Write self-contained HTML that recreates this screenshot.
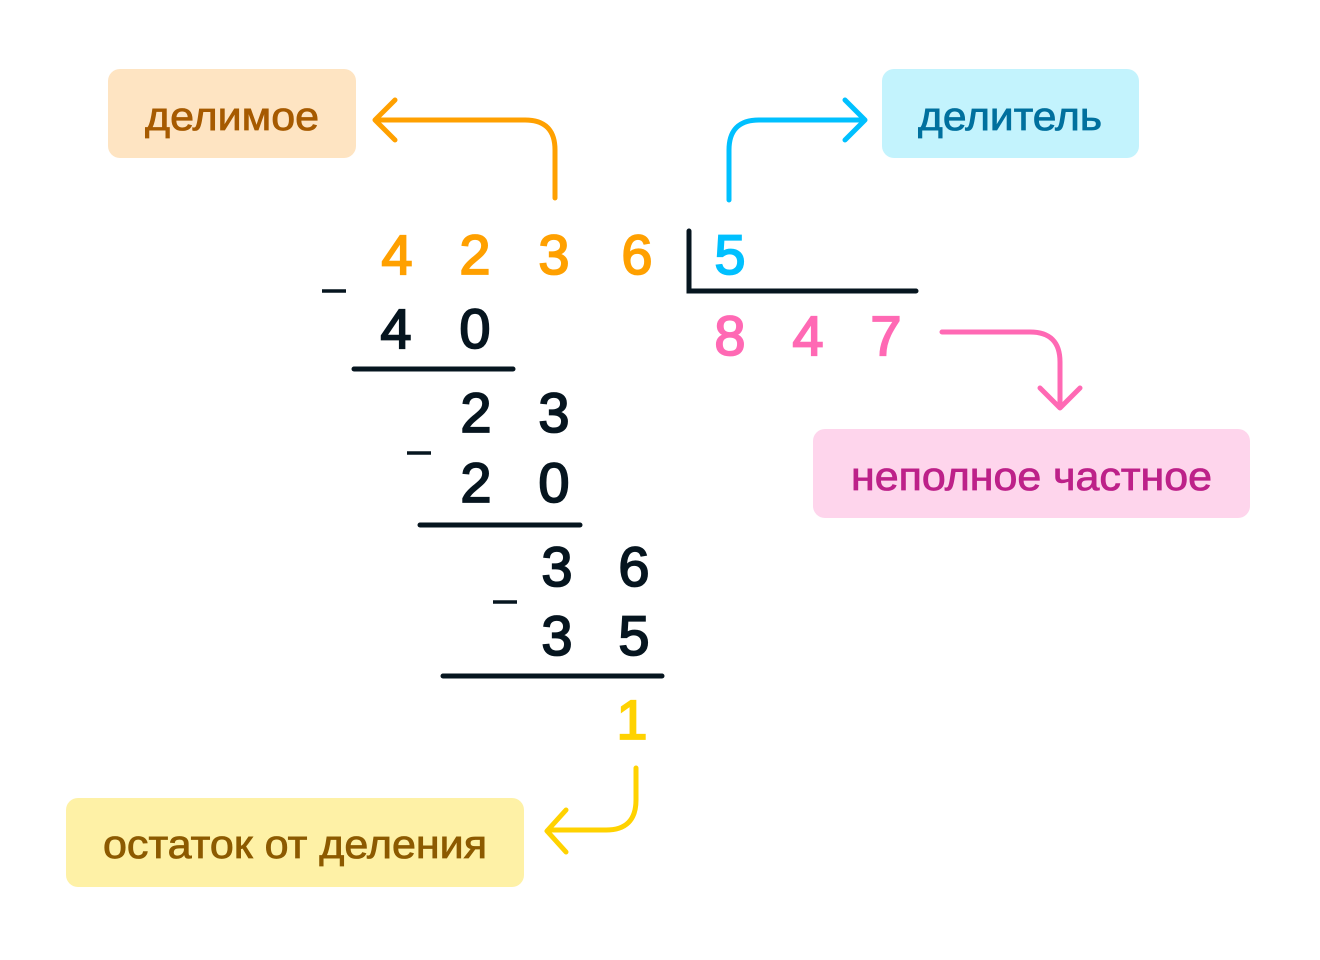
<!DOCTYPE html>
<html><head><meta charset="utf-8"><style>
html,body{margin:0;padding:0;background:#fff}
svg{display:block}
text{font-family:"Liberation Sans",sans-serif}
</style></head><body>
<svg width="1320" height="960" viewBox="0 0 1320 960" xmlns="http://www.w3.org/2000/svg">
<rect x="108" y="69" width="248" height="89" rx="12" fill="#fee4c2"/>
<rect x="882" y="69" width="257" height="89" rx="12" fill="#c3f3fd"/>
<rect x="813" y="429" width="437" height="89" rx="12" fill="#fed5ec"/>
<rect x="66" y="798" width="458" height="89" rx="12" fill="#fef1a6"/>
<g font-size="40" stroke-width="0.8">
<text x="145" y="130" fill="#a65a00" stroke="#a65a00" textLength="174" lengthAdjust="spacingAndGlyphs">делимое</text>
<text x="918" y="130" fill="#00709e" stroke="#00709e" textLength="184" lengthAdjust="spacingAndGlyphs">делитель</text>
<text x="851" y="490" fill="#bd2189" stroke="#bd2189" textLength="361" lengthAdjust="spacingAndGlyphs">неполное частное</text>
<text x="103" y="858" fill="#8c5a00" stroke="#8c5a00" textLength="384" lengthAdjust="spacingAndGlyphs">остаток от деления</text>
</g>
<g fill="none" stroke-width="5" stroke-linecap="round" stroke-linejoin="round">
<path d="M555 198 V150 Q555 120 525 120 H375 M395 100 L375 120 L395 140" stroke="#ffa000"/>
<path d="M729 200 V150 Q729 120 759 120 H865 M845 100 L865 120 L845 140" stroke="#00c0ff"/>
<path d="M942 332 H1030 Q1060 332 1060 362 V407 M1040 388 L1060 408 L1080 388" stroke="#ff69b4"/>
<path d="M636 768 V800 Q636 830 606 830 H548 M566 810 L547 831 L566 852" stroke="#ffd200"/>
</g>
<g stroke="#06151f" stroke-width="5" stroke-linecap="round" fill="none">
<path d="M689 231 V291 H916"/>
<path d="M354 369 H513"/>
<path d="M420 525 H580"/>
<path d="M443 676 H662"/>
</g>
<g stroke="#06151f" stroke-width="3.5" fill="none">
<path d="M322 291 H346"/>
<path d="M407 453 H431"/>
<path d="M493 602 H517"/>
</g>
<g font-size="56" text-anchor="middle" stroke-width="1.8">
<g fill="#ffa000" stroke="#ffa000"><text x="397" y="274">4</text><text x="475" y="274">2</text><text x="554" y="274">3</text><text x="637" y="274">6</text></g>
<text x="730" y="274" fill="#00c0ff" stroke="#00c0ff">5</text>
<g fill="#ff69b4" stroke="#ff69b4"><text x="730" y="355">8</text><text x="808" y="355">4</text><text x="886" y="355">7</text></g>
<g fill="#06151f" stroke="#06151f">
<text x="396" y="348">4</text><text x="475" y="348">0</text>
<text x="476" y="432">2</text><text x="554" y="432">3</text>
<text x="476" y="502">2</text><text x="554" y="502">0</text>
<text x="557" y="586">3</text><text x="634" y="586">6</text>
<text x="557" y="655">3</text><text x="634" y="655">5</text>
</g>
<text x="632" y="739" fill="#ffd200" stroke="#ffd200">1</text>
</g>
</svg>
</body></html>
